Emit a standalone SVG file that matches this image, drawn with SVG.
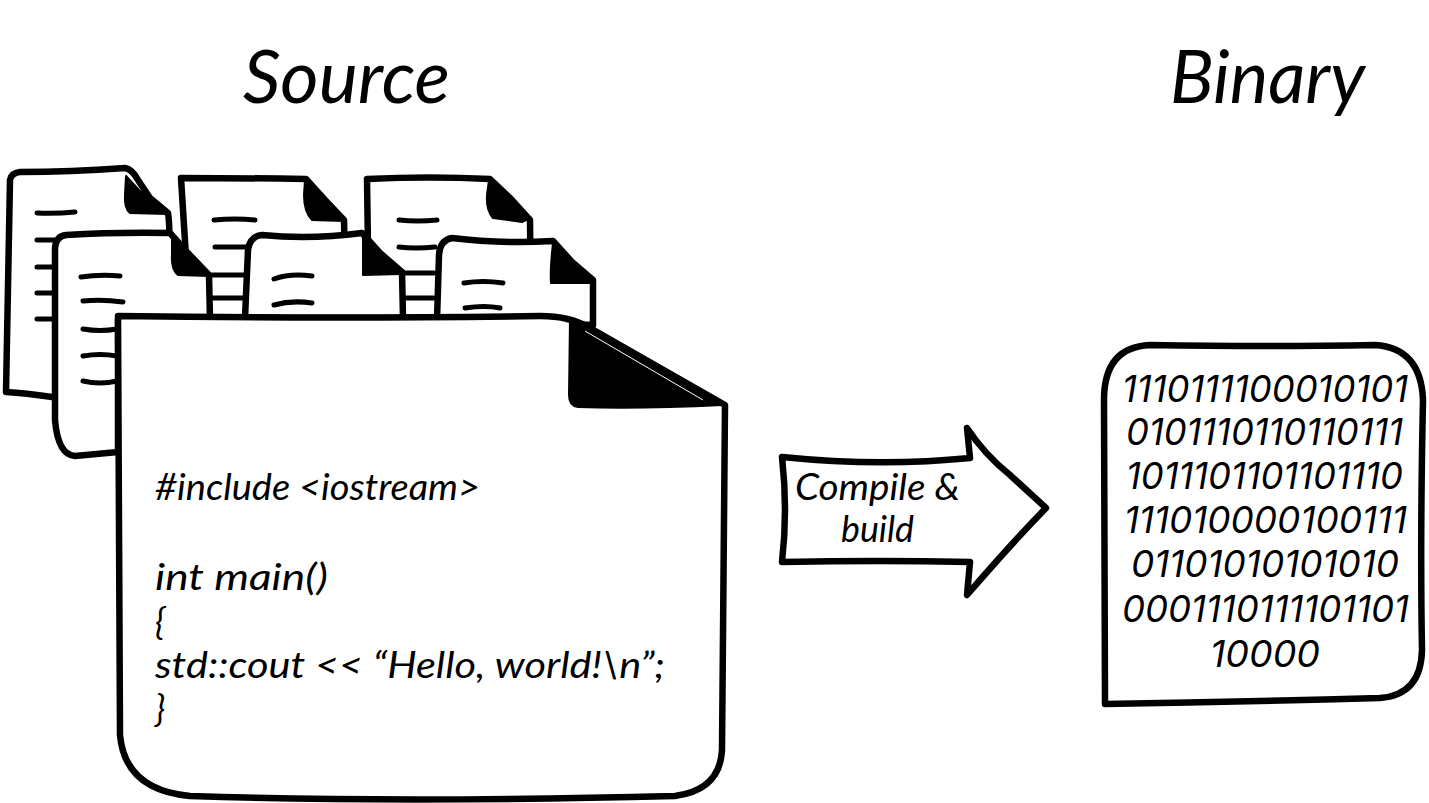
<svg xmlns="http://www.w3.org/2000/svg" width="1429" height="803" viewBox="0 0 1429 803">
<style>
.s{fill:#fff;stroke:#000;stroke-width:6.5;stroke-linejoin:round;stroke-linecap:round}
.l{fill:none;stroke:#000;stroke-width:5;stroke-linecap:round;stroke-linejoin:round}
.f{fill:#000;stroke:#000;stroke-width:2;stroke-linejoin:round}
text{font-family:"Lato","Liberation Sans",sans-serif;font-style:italic;fill:#000}
.t{font-size:74px}
.c{font-size:36px}
.a{font-size:36px}
.b{font-size:37px;font-family:"Inter","Liberation Sans",sans-serif;font-weight:400}
</style>
<rect width="1429" height="803" fill="#fff"/>
<g id="title-source"><text class="t" x="243" y="103" textLength="207" lengthAdjust="spacingAndGlyphs">Source</text></g>
<g id="title-binary"><text class="t" x="1170" y="103" textLength="195" lengthAdjust="spacingAndGlyphs">Binary</text></g>

<g id="doc-back-1">
<path class="s" d="M6 392 L10 180 Q11 173 20 172 Q70 172 125 168 Q132 169 138 180 L150 198 L168 213 Q170 225 169 250 L169 400 L52 397 Q25 393 6 392Z"/>
<path class="f" d="M126 176 L139 190 L150 200 L167 214 L130 213 Q124 208 125 195Z"/>
<path class="l" d="M37 213 Q55 214 75 212M37 240 H56M37 267 H56M37 293 H56M37 319 H56"/>
</g>
<g id="doc-back-2">
<path class="s" d="M181 178 Q240 178 306 179 L325 200 L344 220 L346 320 L190 320 Z"/>
<path class="f" d="M305 180 L325 202 L344 221 L312 220 Q304 212 304 195Z"/>
<path class="l" d="M214 220 Q235 218 255 220M215 247 H250"/>
</g>
<g id="doc-back-3">
<path class="s" d="M367 179 Q430 176 490 179 L510 198 L530 220 L531 320 L369 320 Z"/>
<path class="f" d="M489 180 L510 200 L528 219 L522 222 L493 218 Q486 210 487 195Z"/>
<path class="l" d="M399 220 Q418 222 437 220M399 247 Q415 249 435 247"/>
</g>
<g id="doc-front-1">
<path class="s" d="M118 452 L75 456 Q58 455 55 420 L55 248 Q56 236 66 235 Q115 232 170 233 L185 250 L209 275 L210 320 L118 320Z"/>
<path class="f" d="M172 235 L186 252 L209 276 L178 275 Q171 270 172 255Z"/>
<path class="l" d="M81 277 Q100 274 120 276M83 301 Q102 299 123 302M83 329 Q100 332 117 329M83 356 Q100 353 117 356M83 381 Q100 385 117 381"/>
<path class="l" d="M212 275 H244M212 298 H244"/>
</g>
<g id="doc-front-2">
<path class="s" d="M245 318 L248 250 Q250 236 262 235 Q310 240 362 233 L380 253 L402 272 L403 318 Z"/>
<path class="f" d="M363 235 L380 255 L401 274 L363 275Z"/>
<path class="l" d="M274 279 Q290 273 312 276M274 305 Q292 300 312 303"/>
<path class="l" d="M405 273 H434M405 298 H434"/>
</g>
<g id="doc-front-3">
<path class="s" d="M437 320 L439 255 Q440 240 452 238 Q500 244 553 241 L572 262 L593 280 L593 325 Z"/>
<path class="f" d="M553 243 L571 264 L591 283 L551 283 Q550 270 553 243Z"/>
<path class="l" d="M464 283 Q483 280 503 283M465 308 Q485 305 500 308"/>
</g>
<g id="doc-main">
<path class="s" d="M118 316 Q340 319 540 316 Q570 316 590 328 L725 405 L722 750 Q720 790 675 796 Q400 803 190 796 Q125 790 120 735Z"/>
<path class="f" d="M570 319 L590 328 L722 405 Q640 409 578 407 Q569 406 569 395Z"/>
<path fill="none" stroke="#fff" stroke-width="1" d="M585 331 L703 400"/>
<text class="c" x="155" y="500" textLength="325" lengthAdjust="spacingAndGlyphs">#include &lt;iostream&gt;</text>
<text class="c" x="155" y="590" textLength="173" lengthAdjust="spacingAndGlyphs">int main()</text>
<text class="c" x="155" y="635">{</text>
<text class="c" x="155" y="678" textLength="510" lengthAdjust="spacingAndGlyphs">std::cout &lt;&lt; “Hello, world!\n”;</text>
<text class="c" x="155" y="722">}</text>
</g>

<g id="connectors">
<g id="arrow-compile">
<path class="s" d="M782 457 Q880 467 970 458 L967 428 Q985 455 1010 475 L1046 508 Q1010 545 967 595 L970 562 Q880 560 782 562 Q788 510 782 457Z"/>
<text class="a" x="795" y="500" textLength="165" lengthAdjust="spacingAndGlyphs">Compile &amp;</text>
<text class="a" x="841" y="542" textLength="73" lengthAdjust="spacingAndGlyphs">build</text>
</g>
</g>

<g id="binary">
<path class="s" d="M1105 704 L1104 400 Q1104 347 1150 345 Q1270 347 1375 345 Q1421 348 1423 400 Q1420 540 1422 650 Q1421 695 1380 698 Q1240 702 1105 704Z" stroke-width="7"/>
<text class="b" x="1122" y="402" textLength="286" lengthAdjust="spacingAndGlyphs">1110111100010101</text>
<text class="b" x="1126" y="445" textLength="277" lengthAdjust="spacingAndGlyphs">0101110110110111</text>
<text class="b" x="1126" y="489" textLength="277" lengthAdjust="spacingAndGlyphs">1011101101101110</text>
<text class="b" x="1124" y="533" textLength="283" lengthAdjust="spacingAndGlyphs">111010000100111</text>
<text class="b" x="1131" y="577" textLength="268" lengthAdjust="spacingAndGlyphs">01101010101010</text>
<text class="b" x="1122" y="622" textLength="287" lengthAdjust="spacingAndGlyphs">0001110111101101</text>
<text class="b" x="1210" y="667" textLength="110" lengthAdjust="spacingAndGlyphs">10000</text>
</g>
</svg>
